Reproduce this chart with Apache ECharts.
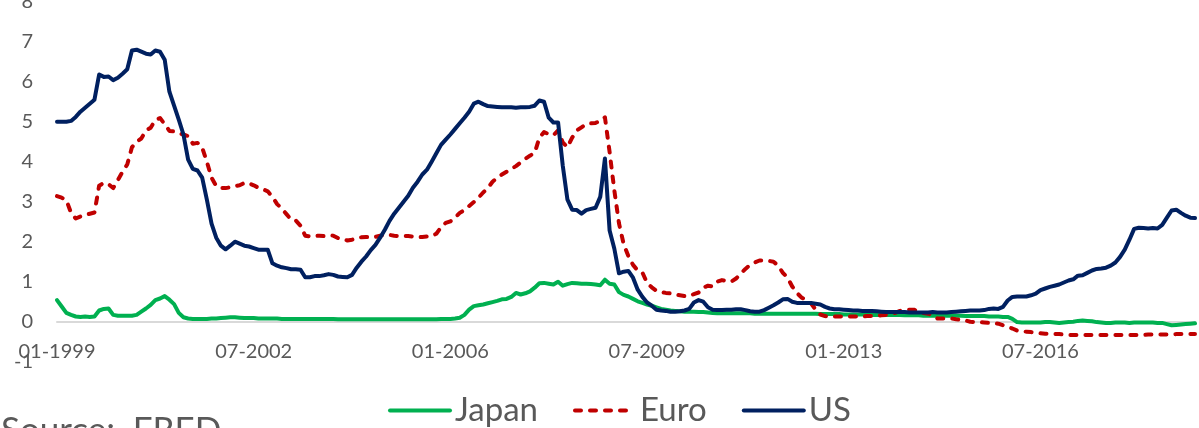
<!DOCTYPE html>
<html>
<head>
<meta charset="utf-8">
<script src="https://cdn.jsdelivr.net/npm/echarts@6/dist/echarts.min.js"></script>
<style>
  html, body { margin: 0; padding: 0; background: #ffffff; }
  #chart { width: 1199px; height: 428px; }
</style>
</head>
<body>
<div id="chart"></div>
<script>
// Monthly 3-month interbank rates (%), January 1999 onwards
const startYear = 1999;
const monthCodes = ['01','02','03','04','05','06','07','08','09','10','11','12'];

const japan = [
  0.54, 0.38, 0.22, 0.17, 0.13, 0.12, 0.13, 0.12, 0.13, 0.28, 0.32, 0.33,   // 1999
  0.17, 0.15, 0.15, 0.15, 0.15, 0.17, 0.25, 0.33, 0.42, 0.54, 0.58, 0.64,   // 2000
  0.55, 0.44, 0.22, 0.11, 0.08, 0.07, 0.07, 0.07, 0.07, 0.08, 0.08, 0.09,   // 2001
  0.10, 0.11, 0.11, 0.10, 0.09, 0.09, 0.09, 0.08, 0.08, 0.08, 0.08, 0.08,   // 2002
  0.07, 0.07, 0.07, 0.07, 0.07, 0.07, 0.07, 0.07, 0.07, 0.07, 0.07, 0.07,   // 2003
  0.06, 0.06, 0.06, 0.06, 0.06, 0.06, 0.06, 0.06, 0.06, 0.06, 0.06, 0.06,   // 2004
  0.06, 0.06, 0.06, 0.06, 0.06, 0.06, 0.06, 0.06, 0.06, 0.06, 0.07, 0.07,   // 2005
  0.07, 0.08, 0.10, 0.17, 0.30, 0.39, 0.41, 0.43, 0.46, 0.49, 0.52, 0.56,   // 2006
  0.57, 0.62, 0.72, 0.68, 0.71, 0.76, 0.85, 0.96, 0.97, 0.95, 0.93, 1.00,   // 2007
  0.90, 0.94, 0.97, 0.96, 0.95, 0.95, 0.94, 0.93, 0.91, 1.05, 0.95, 0.93,   // 2008
  0.74, 0.67, 0.63, 0.57, 0.51, 0.47, 0.43, 0.40, 0.36, 0.32, 0.30, 0.28,   // 2009
  0.27, 0.26, 0.25, 0.25, 0.25, 0.24, 0.24, 0.23, 0.22, 0.21, 0.21, 0.21,   // 2010
  0.21, 0.21, 0.21, 0.21, 0.21, 0.20, 0.20, 0.20, 0.20, 0.20, 0.20, 0.20,   // 2011
  0.20, 0.20, 0.20, 0.20, 0.20, 0.20, 0.20, 0.19, 0.19, 0.19, 0.19, 0.19,   // 2012
  0.18, 0.18, 0.18, 0.18, 0.18, 0.18, 0.17, 0.17, 0.17, 0.17, 0.17, 0.17,   // 2013
  0.17, 0.16, 0.16, 0.16, 0.16, 0.15, 0.15, 0.15, 0.15, 0.15, 0.15, 0.15,   // 2014
  0.15, 0.15, 0.14, 0.14, 0.14, 0.14, 0.14, 0.13, 0.13, 0.13, 0.12, 0.12,   // 2015
  0.07, -0.01, -0.02, -0.02, -0.02, -0.02, -0.02, -0.01, -0.01, -0.02, -0.03, -0.02, // 2016
  -0.01, 0.00, 0.02, 0.03, 0.02, 0.01, -0.01, -0.02, -0.03, -0.03, -0.02, -0.02,     // 2017
  -0.02, -0.03, -0.02, -0.02, -0.02, -0.02, -0.02, -0.03, -0.03, -0.06, -0.09, -0.08, // 2018
  -0.07, -0.06, -0.05, -0.04                                                  // 2019
];

const euro = [
  3.14, 3.10, 3.04, 2.72, 2.58, 2.63, 2.67, 2.70, 2.73, 3.40, 3.47, 3.44,   // 1999
  3.34, 3.54, 3.75, 3.93, 4.36, 4.50, 4.58, 4.78, 4.85, 5.04, 5.09, 4.94,   // 2000
  4.77, 4.76, 4.71, 4.68, 4.64, 4.45, 4.47, 4.35, 4.00, 3.60, 3.39, 3.34,   // 2001
  3.34, 3.36, 3.39, 3.41, 3.47, 3.46, 3.41, 3.35, 3.31, 3.26, 3.12, 2.94,   // 2002
  2.83, 2.69, 2.55, 2.53, 2.40, 2.15, 2.13, 2.14, 2.15, 2.14, 2.16, 2.15,   // 2003
  2.09, 2.07, 2.03, 2.05, 2.09, 2.11, 2.12, 2.11, 2.12, 2.15, 2.17, 2.17,   // 2004
  2.15, 2.14, 2.14, 2.14, 2.13, 2.11, 2.12, 2.13, 2.14, 2.20, 2.36, 2.47,   // 2005
  2.51, 2.60, 2.72, 2.79, 2.89, 2.99, 3.10, 3.23, 3.34, 3.50, 3.60, 3.68,   // 2006
  3.75, 3.82, 3.89, 3.98, 4.07, 4.15, 4.22, 4.60, 4.74, 4.69, 4.66, 4.78,   // 2007
  4.48, 4.36, 4.60, 4.78, 4.86, 4.94, 4.96, 4.97, 5.02, 5.11, 4.24, 3.29,   // 2008
  2.46, 1.94, 1.64, 1.42, 1.28, 1.23, 0.97, 0.86, 0.77, 0.74, 0.72, 0.71,   // 2009
  0.68, 0.66, 0.64, 0.64, 0.69, 0.73, 0.85, 0.90, 0.88, 1.00, 1.04, 1.02,   // 2010
  1.00, 1.08, 1.20, 1.32, 1.42, 1.48, 1.53, 1.53, 1.52, 1.50, 1.40, 1.22,   // 2011
  1.10, 0.88, 0.72, 0.60, 0.55, 0.46, 0.30, 0.18, 0.14, 0.13, 0.13, 0.13,   // 2012
  0.13, 0.13, 0.13, 0.13, 0.13, 0.14, 0.14, 0.14, 0.16, 0.17, 0.20, 0.22,   // 2013
  0.27, 0.29, 0.30, 0.30, 0.26, 0.22, 0.20, 0.16, 0.08, 0.08, 0.08, 0.08,   // 2014
  0.06, 0.05, 0.03, 0.00, -0.01, -0.01, -0.02, -0.03, -0.04, -0.05, -0.09, -0.13,    // 2015
  -0.17, -0.22, -0.24, -0.25, -0.26, -0.27, -0.29, -0.30, -0.30, -0.31, -0.31, -0.32, // 2016
  -0.33, -0.33, -0.33, -0.33, -0.33, -0.33, -0.33, -0.33, -0.33, -0.33, -0.33, -0.33, // 2017
  -0.33, -0.33, -0.33, -0.33, -0.33, -0.32, -0.32, -0.32, -0.32, -0.32, -0.32, -0.31, // 2018
  -0.31, -0.31, -0.31, -0.31                                                  // 2019
];

const us = [
  5.00, 5.00, 5.00, 5.02, 5.12, 5.25, 5.35, 5.45, 5.55, 6.18, 6.12, 6.13,   // 1999
  6.04, 6.10, 6.20, 6.31, 6.78, 6.80, 6.75, 6.70, 6.68, 6.78, 6.75, 6.55,   // 2000
  5.75, 5.40, 5.05, 4.68, 4.05, 3.82, 3.78, 3.60, 3.05, 2.45, 2.10, 1.90,   // 2001
  1.81, 1.90, 2.00, 1.95, 1.90, 1.88, 1.84, 1.80, 1.80, 1.80, 1.46, 1.40,   // 2002
  1.36, 1.34, 1.31, 1.31, 1.30, 1.11, 1.11, 1.14, 1.14, 1.16, 1.19, 1.17,   // 2003
  1.13, 1.12, 1.11, 1.17, 1.35, 1.50, 1.63, 1.79, 1.92, 2.10, 2.30, 2.52,   // 2004
  2.70, 2.85, 3.00, 3.15, 3.35, 3.50, 3.68, 3.80, 4.00, 4.21, 4.42, 4.55,   // 2005
  4.68, 4.82, 4.96, 5.10, 5.25, 5.45, 5.50, 5.44, 5.39, 5.38, 5.37, 5.36,   // 2006
  5.36, 5.36, 5.35, 5.36, 5.36, 5.37, 5.40, 5.53, 5.50, 5.10, 4.98, 4.98,   // 2007
  3.90, 3.05, 2.80, 2.79, 2.70, 2.79, 2.82, 2.85, 3.12, 4.08, 2.28, 1.83,   // 2008
  1.21, 1.25, 1.27, 1.10, 0.80, 0.62, 0.48, 0.40, 0.30, 0.28, 0.27, 0.25,   // 2009
  0.25, 0.26, 0.28, 0.32, 0.48, 0.54, 0.50, 0.36, 0.30, 0.29, 0.29, 0.30,   // 2010
  0.30, 0.31, 0.31, 0.29, 0.26, 0.25, 0.25, 0.29, 0.35, 0.41, 0.48, 0.56,   // 2011
  0.57, 0.50, 0.47, 0.47, 0.47, 0.47, 0.45, 0.43, 0.37, 0.33, 0.31, 0.31,   // 2012
  0.30, 0.29, 0.28, 0.28, 0.27, 0.27, 0.27, 0.26, 0.25, 0.24, 0.24, 0.24,   // 2013
  0.24, 0.24, 0.23, 0.23, 0.23, 0.23, 0.23, 0.24, 0.23, 0.23, 0.23, 0.24,   // 2014
  0.25, 0.26, 0.27, 0.28, 0.28, 0.28, 0.29, 0.32, 0.33, 0.32, 0.37, 0.53,   // 2015
  0.62, 0.63, 0.63, 0.63, 0.66, 0.70, 0.79, 0.83, 0.87, 0.90, 0.93, 0.98,   // 2016
  1.03, 1.06, 1.15, 1.16, 1.22, 1.28, 1.32, 1.33, 1.35, 1.40, 1.48, 1.62,   // 2017
  1.80, 2.05, 2.32, 2.35, 2.34, 2.33, 2.34, 2.33, 2.42, 2.60, 2.78, 2.80,   // 2018
  2.72, 2.65, 2.60, 2.59                                                      // 2019
];

// Category labels "MM-YYYY", one per monthly observation
const categories = [];
for (let k = 0; k < us.length; k++) {
  const y = startYear + Math.floor(k / 12);
  categories.push(monthCodes[k % 12] + '-' + y);
}

const seriesNames = ['Japan', 'Euro', 'US'];
const seriesColors = ['#00B050', '#C00000', '#002060'];
const sourceNote = 'Source:  FRED';

const textGray = '#595959';
const fontFamily = 'Lato, "Open Sans", "Liberation Sans", sans-serif';

const chart = echarts.init(document.getElementById('chart'), null, { renderer: 'canvas' });

const option = {
  backgroundColor: '#ffffff',
  animation: false,
  grid: {
    left: 57,
    right: 4,
    top: 1.7,
    bottom: 66.3,
    containLabel: false,
    outerBoundsMode: 'none'
  },
  legend: {
    data: seriesNames,
    left: 383,
    top: 389,
    itemWidth: 60,
    itemHeight: 14,
    itemGap: 35,
    itemStyle: { opacity: 0 },
    lineStyle: { width: 4, cap: 'round' },
    textStyle: { color: textGray, fontSize: 33, fontFamily: fontFamily }
  },
  xAxis: {
    type: 'category',
    data: categories,
    boundaryGap: false,
    axisLine: { onZero: true, lineStyle: { color: '#D9D9D9', width: 2 } },
    axisTick: { show: false },
    axisLabel: {
      interval: 41,
      margin: -20,
      color: textGray,
      fontSize: 20,
      fontFamily: fontFamily
    },
    splitLine: { show: false }
  },
  yAxis: {
    type: 'value',
    min: -1,
    max: 8,
    interval: 1,
    axisLine: { show: false },
    axisTick: { show: false },
    splitLine: { show: false },
    axisLabel: {
      margin: 24,
      color: textGray,
      fontSize: 20,
      fontFamily: fontFamily
    }
  },
  series: [
    {
      name: seriesNames[0],
      type: 'line',
      data: japan,
      symbol: 'none',
      color: seriesColors[0],
      lineStyle: { width: 4, color: seriesColors[0], join: 'round', cap: 'round' }
    },
    {
      name: seriesNames[1],
      type: 'line',
      data: euro,
      symbol: 'none',
      color: seriesColors[1],
      lineStyle: { width: 4, color: seriesColors[1], type: [6, 9], cap: 'round', join: 'round' }
    },
    {
      name: seriesNames[2],
      type: 'line',
      data: us,
      symbol: 'none',
      color: seriesColors[2],
      lineStyle: { width: 4, color: seriesColors[2], join: 'round', cap: 'round' }
    }
  ],
  graphic: [
    {
      type: 'text',
      left: 1,
      top: 413,
      style: {
        text: sourceNote,
        fill: textGray,
        font: '35px ' + fontFamily
      }
    }
  ]
};

chart.setOption(option);
</script>
</body>
</html>
